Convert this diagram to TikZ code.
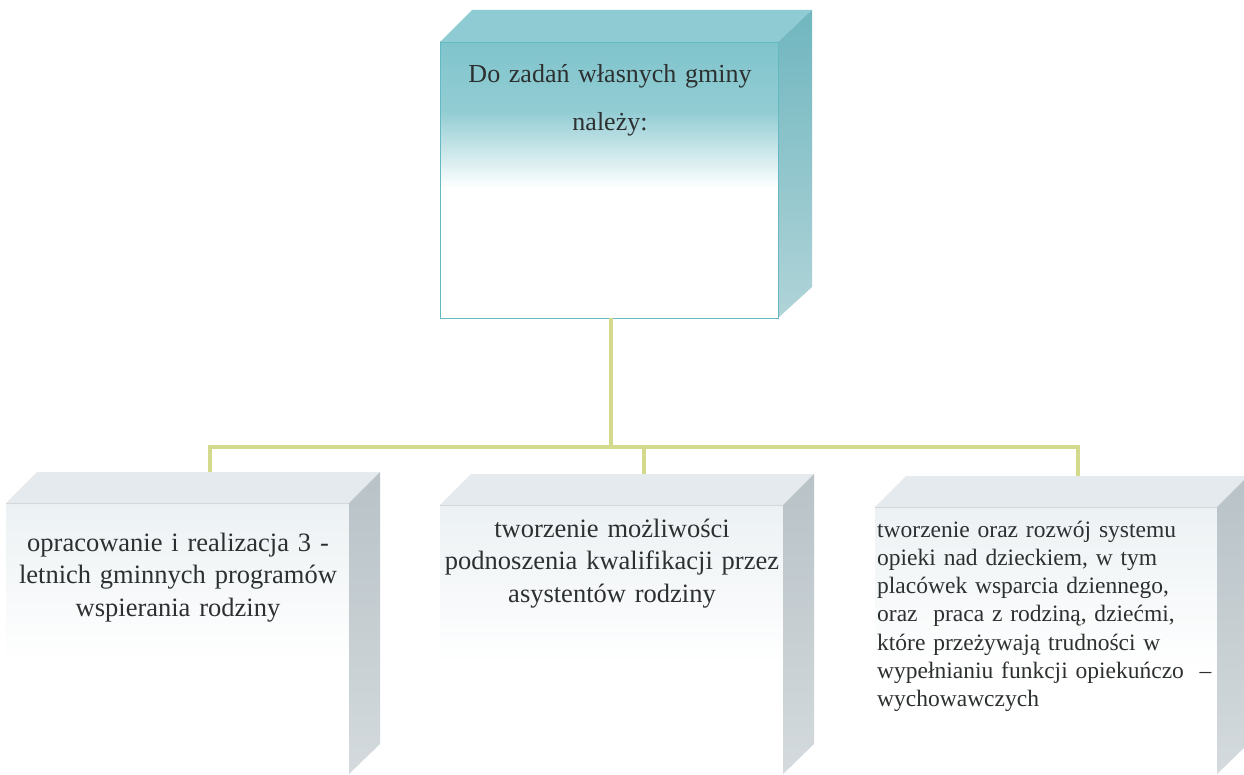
\documentclass[tikz,border=0pt]{standalone}
\usepackage{fontspec}
\setmainfont{Liberation Serif}
\definecolor{tealA}{RGB}{128,196,204}
\definecolor{tealTop}{RGB}{142,203,210}
\definecolor{tealSideT}{RGB}{112,182,191}
\definecolor{tealSideB}{RGB}{176,212,216}
\definecolor{tealEdge}{RGB}{100,186,195}
\definecolor{greyTop}{RGB}{228,234,238}
\definecolor{greySideT}{RGB}{184,194,199}
\definecolor{greySideB}{RGB}{212,218,221}
\definecolor{greyFront}{RGB}{236,241,243}
\definecolor{connc}{RGB}{211,218,140}
\definecolor{txt}{RGB}{45,48,48}
\newcommand\drawlowbox[3]{%
  \shade[top color=greyFront, bottom color=white] (#1,#3) rectangle (#2,#3+160);
  \fill[white] (#1,#3+160) rectangle (#2,775);
  \fill[greyTop] (#1,#3) -- (#1+31,#3-31) -- (#2+31,#3-31) -- (#2,#3) -- cycle;
  \draw[black!16, line width=0.6pt] (#1,#3) -- (#2,#3);
  \shade[top color=greySideT, bottom color=greySideB] (#2,#3) -- (#2+31,#3-31) -- (#2+31,744) -- (#2,774) -- cycle;
}
\tikzset{
  conn/.style={draw=connc, line width=4pt},
  lbl/.style={inner sep=0pt, text=txt, anchor=base},
  bigtxt/.style={font=\fontsize{26.5}{32.5}\selectfont},
  smalltxt/.style={font=\fontsize{23.5}{28.3}\selectfont}
}
\begin{document}
\begin{tikzpicture}[x=1pt,y=-1pt]
\useasboundingbox (0,0) rectangle (1244,775);
\fill[white] (0,0) rectangle (1244,775);
% top box
\fill[white] (440,42) rectangle (778,318);
\shade[top color=tealA, bottom color=tealA!85!white] (440,42) rectangle (778,112);
\shade[top color=tealA!85!white, bottom color=white] (440,112) rectangle (778,188);
\fill[tealTop] (440,42) -- (472,10) -- (812,10) -- (778,42) -- cycle;
\shade[top color=tealSideT, bottom color=tealSideB] (778,42) -- (812,10) -- (812,287) -- (778,318) -- cycle;
\draw[tealEdge, line width=0.8pt] (440,42) rectangle (778,318);
% lower boxes
\drawlowbox{6}{349}{503}
\drawlowbox{440}{783}{505}
\drawlowbox{875}{1217}{507}
% connector anchors
\coordinate (topS) at (611,318);
\coordinate (hub) at (611,447);
\coordinate (b1N) at (210,472);
\coordinate (b2N) at (644,474);
\coordinate (b3N) at (1078,476);
\draw[conn] (topS) -- (hub);
\draw[conn] (b1N) |- (hub) -| (b3N);
\draw[conn] (hub) -| (b2N);
% texts
\node[lbl, font=\fontsize{26}{48}\selectfont, text width=340pt, align=center] (t0) at (610,83) {Do zadań własnych gminy\\należy:};
\node[lbl, bigtxt, text width=360pt, align=center] (t1) at (178,551) {opracowanie i realizacja 3 -\\letnich gminnych programów\\wspierania rodziny};
\node[lbl, bigtxt, text width=360pt, align=center] (t2) at (612,537) {tworzenie możliwości\\podnoszenia kwalifikacji przez\\asystentów rodziny};
\node[lbl, smalltxt, text width=360pt, align=left, anchor=base west] (t3) at (877,537) {tworzenie oraz rozwój systemu\\opieki nad dzieckiem, w tym\\placówek wsparcia dziennego,\\oraz\ \ praca z rodziną, dziećmi,\\które przeżywają trudności w\\wypełnianiu funkcji opiekuńczo\ \ –\\wychowawczych};
\end{tikzpicture}
\end{document}
